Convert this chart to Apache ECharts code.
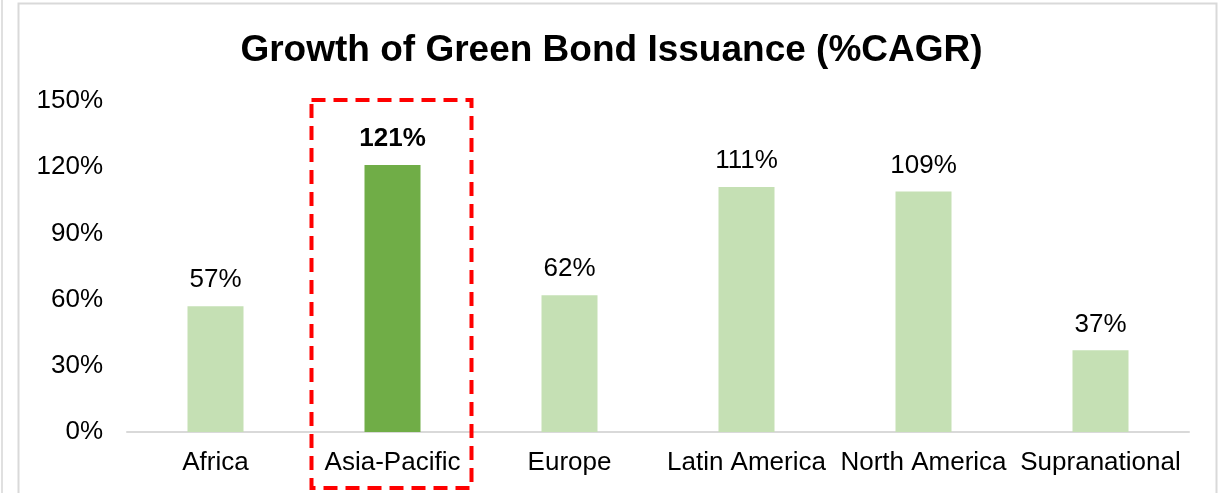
<!DOCTYPE html>
<html>
<head>
<meta charset="utf-8">
<script src="https://cdn.jsdelivr.net/npm/echarts@6/dist/echarts.min.js"></script>
<style>
  html, body { margin: 0; padding: 0; background: #fff; }
  #chart { width: 1223px; height: 493px; }
</style>
</head>
<body>
<div id="chart"></div>
<script>
// Growth of Green Bond Issuance (%CAGR) by region
const REGIONS = ['Africa', 'Asia-Pacific', 'Europe', 'Latin America', 'North America', 'Supranational'];
const CAGR = [57, 121, 62, 111, 109, 37];
const HIGHLIGHT = 'Asia-Pacific';
const Y_TICKS = [0, 30, 60, 90, 120, 150];

const chart = echarts.init(document.getElementById('chart'));
const FONT = '"Liberation Sans", Arial, sans-serif';

chart.setOption({
  animation: false,
  textStyle: { fontFamily: FONT },
  title: {
    text: 'Growth of Green Bond Issuance (%CAGR)',
    left: 'center',
    top: 27,
    textStyle: { fontSize: 37, fontWeight: 'bold', color: '#000', fontFamily: FONT }
  },
  grid: { left: 127, right: 34, top: 101, bottom: 61 },
  xAxis: {
    type: 'category',
    data: REGIONS,
    axisLine: { lineStyle: { color: '#d9d9d9', width: 2 } },
    axisTick: { show: false },
    axisLabel: { color: '#000', fontSize: 26, margin: 18, interval: 0 }
  },
  yAxis: {
    type: 'value',
    min: Y_TICKS[0],
    max: Y_TICKS[Y_TICKS.length - 1],
    interval: 30,
    splitLine: { show: false },
    axisLine: { show: false },
    axisTick: { show: false },
    axisLabel: { color: '#000', fontSize: 26, margin: 24, formatter: '{value}%' }
  },
  series: [{
    type: 'bar',
    barWidth: 56,
    data: CAGR.map((v, i) => {
      const hi = REGIONS[i] === HIGHLIGHT;
      return {
        value: v,
        itemStyle: { color: hi ? '#70ad47' : '#c5e0b4' },
        label: { fontWeight: hi ? 'bold' : 'normal' }
      };
    }),
    label: {
      show: true,
      position: 'top',
      distance: 13,
      fontSize: 26,
      color: '#000',
      formatter: '{c}%'
    }
  }]
});

// frame + dashed highlight box, placed from the axis scales
function drawOverlay() {
  const hiIdx = REGIONS.indexOf(HIGHLIGHT);
  const [cx, yTop] = chart.convertToPixel({ gridIndex: 0 }, [hiIdx, Y_TICKS[Y_TICKS.length - 1]]);
  const [, yZero] = chart.convertToPixel({ gridIndex: 0 }, [hiIdx, 0]);
  chart.setOption({
    graphic: [
      {
        type: 'rect', silent: true, z: -1,
        shape: { x: 18.5, y: 3.5, width: 1198, height: 500 },
        style: { fill: null, stroke: '#d9d9d9', lineWidth: 2 }
      },
      {
        type: 'line', silent: true,
        shape: { x1: 2, y1: 0, x2: 2, y2: 493 },
        style: { stroke: '#e0e0e0', lineWidth: 2 }
      },
      {
        type: 'rect', silent: true, z: 10,
        shape: { x: cx - 81, y: yTop - 1, width: 160, height: yZero - yTop + 57 },
        style: { fill: null, stroke: '#ff0000', lineWidth: 4, lineDash: [14, 8] }
      }
    ]
  });
}
drawOverlay();
window.addEventListener('resize', () => { chart.resize(); drawOverlay(); });
</script>
</body>
</html>
